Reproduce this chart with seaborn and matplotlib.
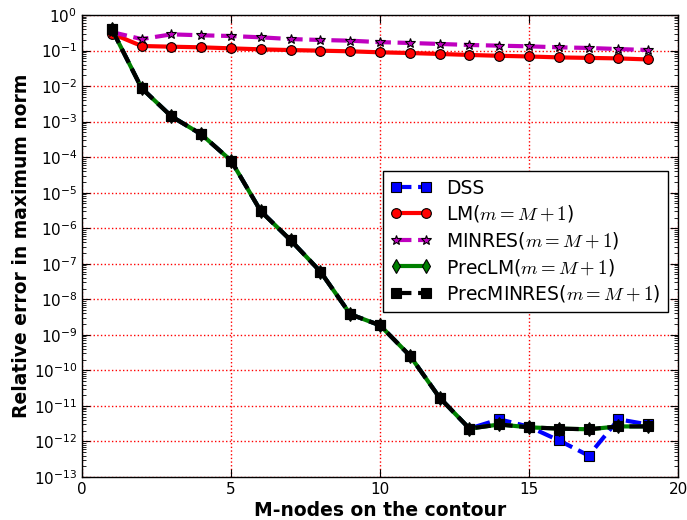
import numpy as np
import pandas as pd
import matplotlib
matplotlib.use("Agg")
import matplotlib.pyplot as plt
import matplotlib.ticker as mticker
import seaborn as sns

# Number of nodes on the contour
nodes = list(range(1, 20))

# Relative errors (maximum norm) for each solver
dss = [4.0e-1, 8.7e-3, 1.4e-3, 4.4e-4, 8.0e-5, 3.0e-6, 4.6e-7, 6.0e-8, 3.8e-9,
       1.85e-9, 2.6e-10, 1.7e-11, 2.3e-12, 4.2e-12, 2.6e-12, 1.07e-12, 4.0e-13,
       4.2e-12, 3.0e-12]
lm = [0.30, 0.134, 0.128, 0.123, 0.115, 0.108, 0.103, 0.099, 0.095, 0.089,
      0.085, 0.080, 0.075, 0.071, 0.068, 0.064, 0.062, 0.060, 0.056]
minres = [0.33, 0.21, 0.285, 0.268, 0.256, 0.235, 0.21, 0.198, 0.189, 0.172,
          0.163, 0.153, 0.143, 0.137, 0.131, 0.123, 0.118, 0.110, 0.103]
prec_lm = [4.0e-1, 8.7e-3, 1.4e-3, 4.4e-4, 8.0e-5, 3.0e-6, 4.6e-7, 6.0e-8, 3.8e-9,
           1.85e-9, 2.6e-10, 1.7e-11, 2.3e-12, 3.0e-12, 2.5e-12, 2.3e-12, 2.2e-12,
           2.65e-12, 2.65e-12]
prec_minres = [4.0e-1, 8.7e-3, 1.4e-3, 4.4e-4, 8.0e-5, 3.0e-6, 4.6e-7, 6.0e-8, 3.8e-9,
               1.85e-9, 2.6e-10, 1.7e-11, 2.3e-12, 3.0e-12, 2.5e-12, 2.3e-12, 2.2e-12,
               2.65e-12, 2.65e-12]

labels = ["DSS", r"LM($m=M+1$)", r"MINRES($m=M+1$)",
          r"PrecLM($m=M+1$)", r"PrecMINRES($m=M+1$)"]

sns.set_style("ticks")
plt.rcParams["font.family"] = ["DejaVu Sans"]
plt.rcParams["mathtext.fontset"] = "cm"
plt.rcParams["axes.unicode_minus"] = False
for key in ["text.color", "axes.labelcolor", "xtick.color", "ytick.color",
            "axes.edgecolor"]:
    plt.rcParams[key] = "black"

fig = plt.figure(figsize=(6.87, 5.2), dpi=100)
ax = fig.add_axes([0.1194, 0.0827, 0.8676, 0.8885])

series = [
    (dss, dict(color="b", linestyle="--", marker="s", markersize=7)),
    (lm, dict(color="r", linestyle="-", marker="o", markersize=7)),
    (minres, dict(color="m", linestyle="--", marker="*", markersize=7)),
    (prec_lm, dict(color="g", linestyle="-", marker="d", markersize=7)),
    (prec_minres, dict(color="k", linestyle="--", marker="s", markersize=7)),
]

for (vals, style), lab in zip(series, labels):
    df = pd.DataFrame({"M": nodes, "err": vals})
    sns.lineplot(data=df, x="M", y="err", ax=ax, label=lab, linewidth=3,
                 markeredgecolor="k", markeredgewidth=0.8, **style)

ax.set_yscale("log")
ax.set_xlim(0, 20)
ax.set_ylim(1e-13, 1)
ax.set_xticks([0, 5, 10, 15, 20])
ax.yaxis.set_major_locator(mticker.LogLocator(base=10, numticks=20))
ax.yaxis.set_major_formatter(
    mticker.FuncFormatter(lambda v, p: r"$\mathregular{10^{%d}}$" % round(np.log10(v))))
ax.yaxis.set_minor_locator(mticker.LogLocator(base=10, subs=np.arange(2, 10), numticks=20))
ax.yaxis.set_minor_formatter(mticker.NullFormatter())

ax.tick_params(which="both", direction="in", top=True, right=True, labelsize=11,
               colors="black")
ax.tick_params(which="major", length=6)
ax.tick_params(which="minor", length=3)
for s in ax.spines.values():
    s.set_linewidth(1.0)
    s.set_color("k")

ax.grid(True, which="major", color="r", linestyle=":", linewidth=1)

ax.set_xlabel("M-nodes on the contour", fontsize=13.5, fontweight="bold", labelpad=3)
ax.set_ylabel("Relative error in maximum norm", fontsize=13.5, fontweight="bold",
              labelpad=2)

leg = ax.legend(loc="upper right", bbox_to_anchor=(0.983, 0.662), borderaxespad=0,
                fontsize=13.5, fancybox=False, framealpha=1, edgecolor="k",
                handlelength=2.2, numpoints=2, labelspacing=0.3)
leg.get_frame().set_linewidth(1.0)

fig.savefig("out.png", dpi=100)
